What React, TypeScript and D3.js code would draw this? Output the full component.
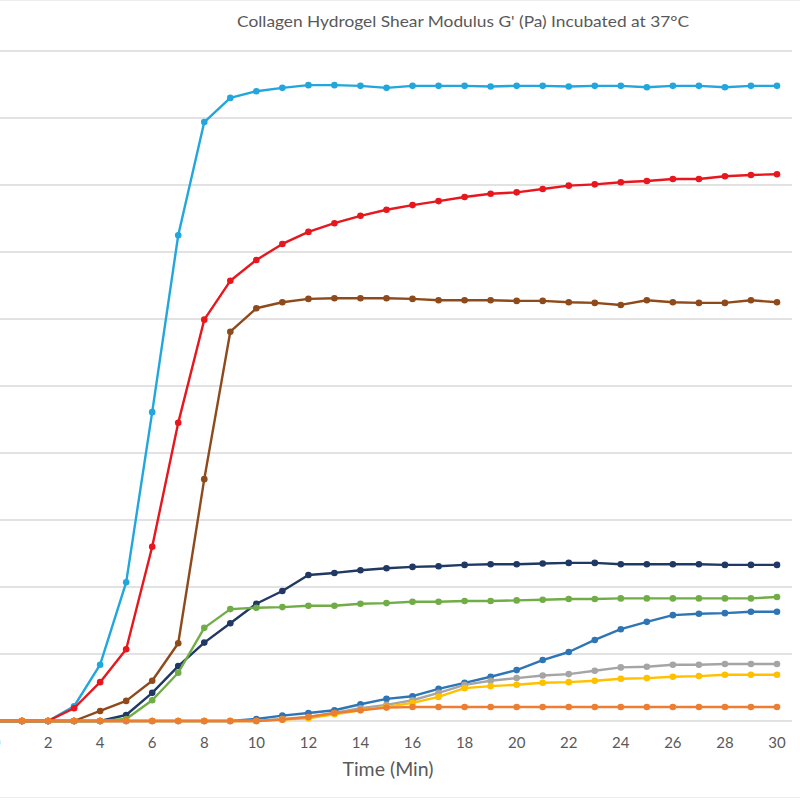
import React, { useEffect, useRef } from "react";
import * as d3 from "d3";

const times: number[] = d3.range(0, 31);
const xTicks: number[] = [0, 2, 4, 6, 8, 10, 12, 14, 16, 18, 20, 22, 24, 26, 28, 30];
const yGrid: number[] = [0, 100, 200, 300, 400, 500, 600, 700, 800, 900, 1000];

const navy: number[] = [0, 0, 0, 0, 0, 9, 42, 82, 117, 146, 175, 194, 218, 221, 225, 228, 230, 231, 233, 234, 234, 235, 236, 236, 234, 234, 234, 234, 233, 233, 233];
const green: number[] = [0, 0, 0, 0, 0, 3, 31, 72, 139, 167, 169, 170, 172, 172, 175, 176, 178, 178, 179, 179, 180, 181, 182, 182, 183, 183, 183, 183, 183, 183, 185];
const cyan: number[] = [0, 0, 0, 22, 84, 207, 461, 725, 894, 930, 940, 945, 949, 949, 948, 945, 948, 948, 948, 947, 948, 948, 947, 948, 948, 946, 948, 948, 946, 948, 948];
const red: number[] = [0, 0, 0, 19, 58, 107, 260, 445, 599, 657, 688, 712, 730, 743, 754, 763, 770, 776, 782, 787, 789, 794, 799, 801, 804, 806, 809, 809, 813, 815, 816];
const brown: number[] = [0, 0, 0, 0, 15, 30, 60, 116, 361, 581, 616, 625, 630, 631, 631, 631, 630, 628, 628, 628, 627, 627, 625, 624, 621, 628, 625, 624, 624, 628, 625];
const blue: number[] = [0, 0, 0, 0, 0, 0, 0, 0, 0, 0, 3, 8, 12, 16, 25, 33, 37, 48, 57, 66, 76, 91, 103, 121, 137, 148, 158, 160, 161, 163, 163];
const gray: number[] = [0, 0, 0, 0, 0, 0, 0, 0, 0, 0, 0, 3, 6, 12, 19, 24, 31, 42, 54, 60, 64, 68, 70, 75, 80, 81, 84, 84, 85, 85, 85];
const yellow: number[] = [0, 0, 0, 0, 0, 0, 0, 0, 0, 0, 0, 2, 4, 10, 16, 21, 27, 36, 49, 52, 54, 57, 58, 60, 63, 64, 66, 67, 69, 69, 69];
const orange: number[] = [0, 0, 0, 0, 0, 0, 0, 0, 0, 0, 0, 2, 6, 12, 16, 20, 21, 21, 21, 21, 21, 21, 21, 21, 21, 21, 21, 21, 21, 21, 21];

const seriesList: { name: string; values: number[]; color: string }[] = [
  { name: "navy", values: navy, color: "#203864" },
  { name: "green", values: green, color: "#70AD47" },
  { name: "cyan", values: cyan, color: "#21A6DD" },
  { name: "red", values: red, color: "#E8161D" },
  { name: "brown", values: brown, color: "#8E4A1A" },
  { name: "blue", values: blue, color: "#2E75B6" },
  { name: "gray", values: gray, color: "#A5A5A5" },
  { name: "yellow", values: yellow, color: "#FFC000" },
  { name: "orange", values: orange, color: "#ED7D31" },
];

const title = "Collagen Hydrogel Shear Modulus G' (Pa) Incubated at 37°C";
const xTitle = "Time (Min)";

export default function App() {
  const ref = useRef<SVGSVGElement>(null);

  useEffect(() => {
    const svg = d3.select(ref.current);
    svg.selectAll("*").remove();
    const W = 800, H = 800;

    const x = d3.scaleLinear().domain([0, 30]).range([-4, 777]);
    const y = d3.scaleLinear().domain([0, 1000]).range([721, 51]);

    svg.append("rect").attr("width", W).attr("height", H).attr("fill", "#fff");
    svg.append("line").attr("x1", 0).attr("x2", W).attr("y1", 0.5).attr("y2", 0.5).attr("stroke", "#EDEDED");
    svg.append("line").attr("x1", 0).attr("x2", W).attr("y1", 797.5).attr("y2", 797.5).attr("stroke", "#EDEDED");

    svg.append("g").selectAll("line").data(yGrid).join("line")
      .attr("x1", 0).attr("x2", 792)
      .attr("y1", (d) => y(d)).attr("y2", (d) => y(d))
      .attr("stroke", "#D9D9D9").attr("stroke-width", 1.5);

    svg.append("text")
      .attr("x", 463).attr("y", 27)
      .attr("text-anchor", "middle")
      .attr("font-family", "Lato, 'Open Sans', sans-serif")
      .attr("font-size", 15)
      .attr("fill", "#595959")
      .attr("textLength", 452)
      .attr("lengthAdjust", "spacingAndGlyphs")
      .text(title);

    svg.append("g").selectAll("text").data(xTicks).join("text")
      .attr("x", (d) => x(d)).attr("y", 748)
      .attr("text-anchor", "middle")
      .attr("font-family", "Lato, 'Open Sans', sans-serif")
      .attr("font-size", 15)
      .attr("fill", "#595959")
      .text((d) => String(d));

    svg.append("text")
      .attr("x", 388).attr("y", 776)
      .attr("text-anchor", "middle")
      .attr("font-family", "Lato, 'Open Sans', sans-serif")
      .attr("font-size", 19.5)
      .attr("fill", "#595959")
      .text(xTitle);

    const line = d3.line<number>().x((_, i) => x(times[i])).y((d) => y(d));

    seriesList.forEach((s) => {
      const g = svg.append("g");
      g.append("path")
        .attr("d", line(s.values) || "")
        .attr("fill", "none")
        .attr("stroke", s.color)
        .attr("stroke-width", 2.4)
        .attr("stroke-linejoin", "round");
      g.selectAll("circle").data(s.values).join("circle")
        .attr("cx", (_, i) => x(times[i]))
        .attr("cy", (d) => y(d))
        .attr("r", 3.3)
        .attr("fill", s.color);
    });
  }, []);

  return (
    <div style={{ position: "absolute", left: 0, top: 0 }}>
      <svg ref={ref} width={800} height={800} style={{ display: "block" }} />
    </div>
  );
}
